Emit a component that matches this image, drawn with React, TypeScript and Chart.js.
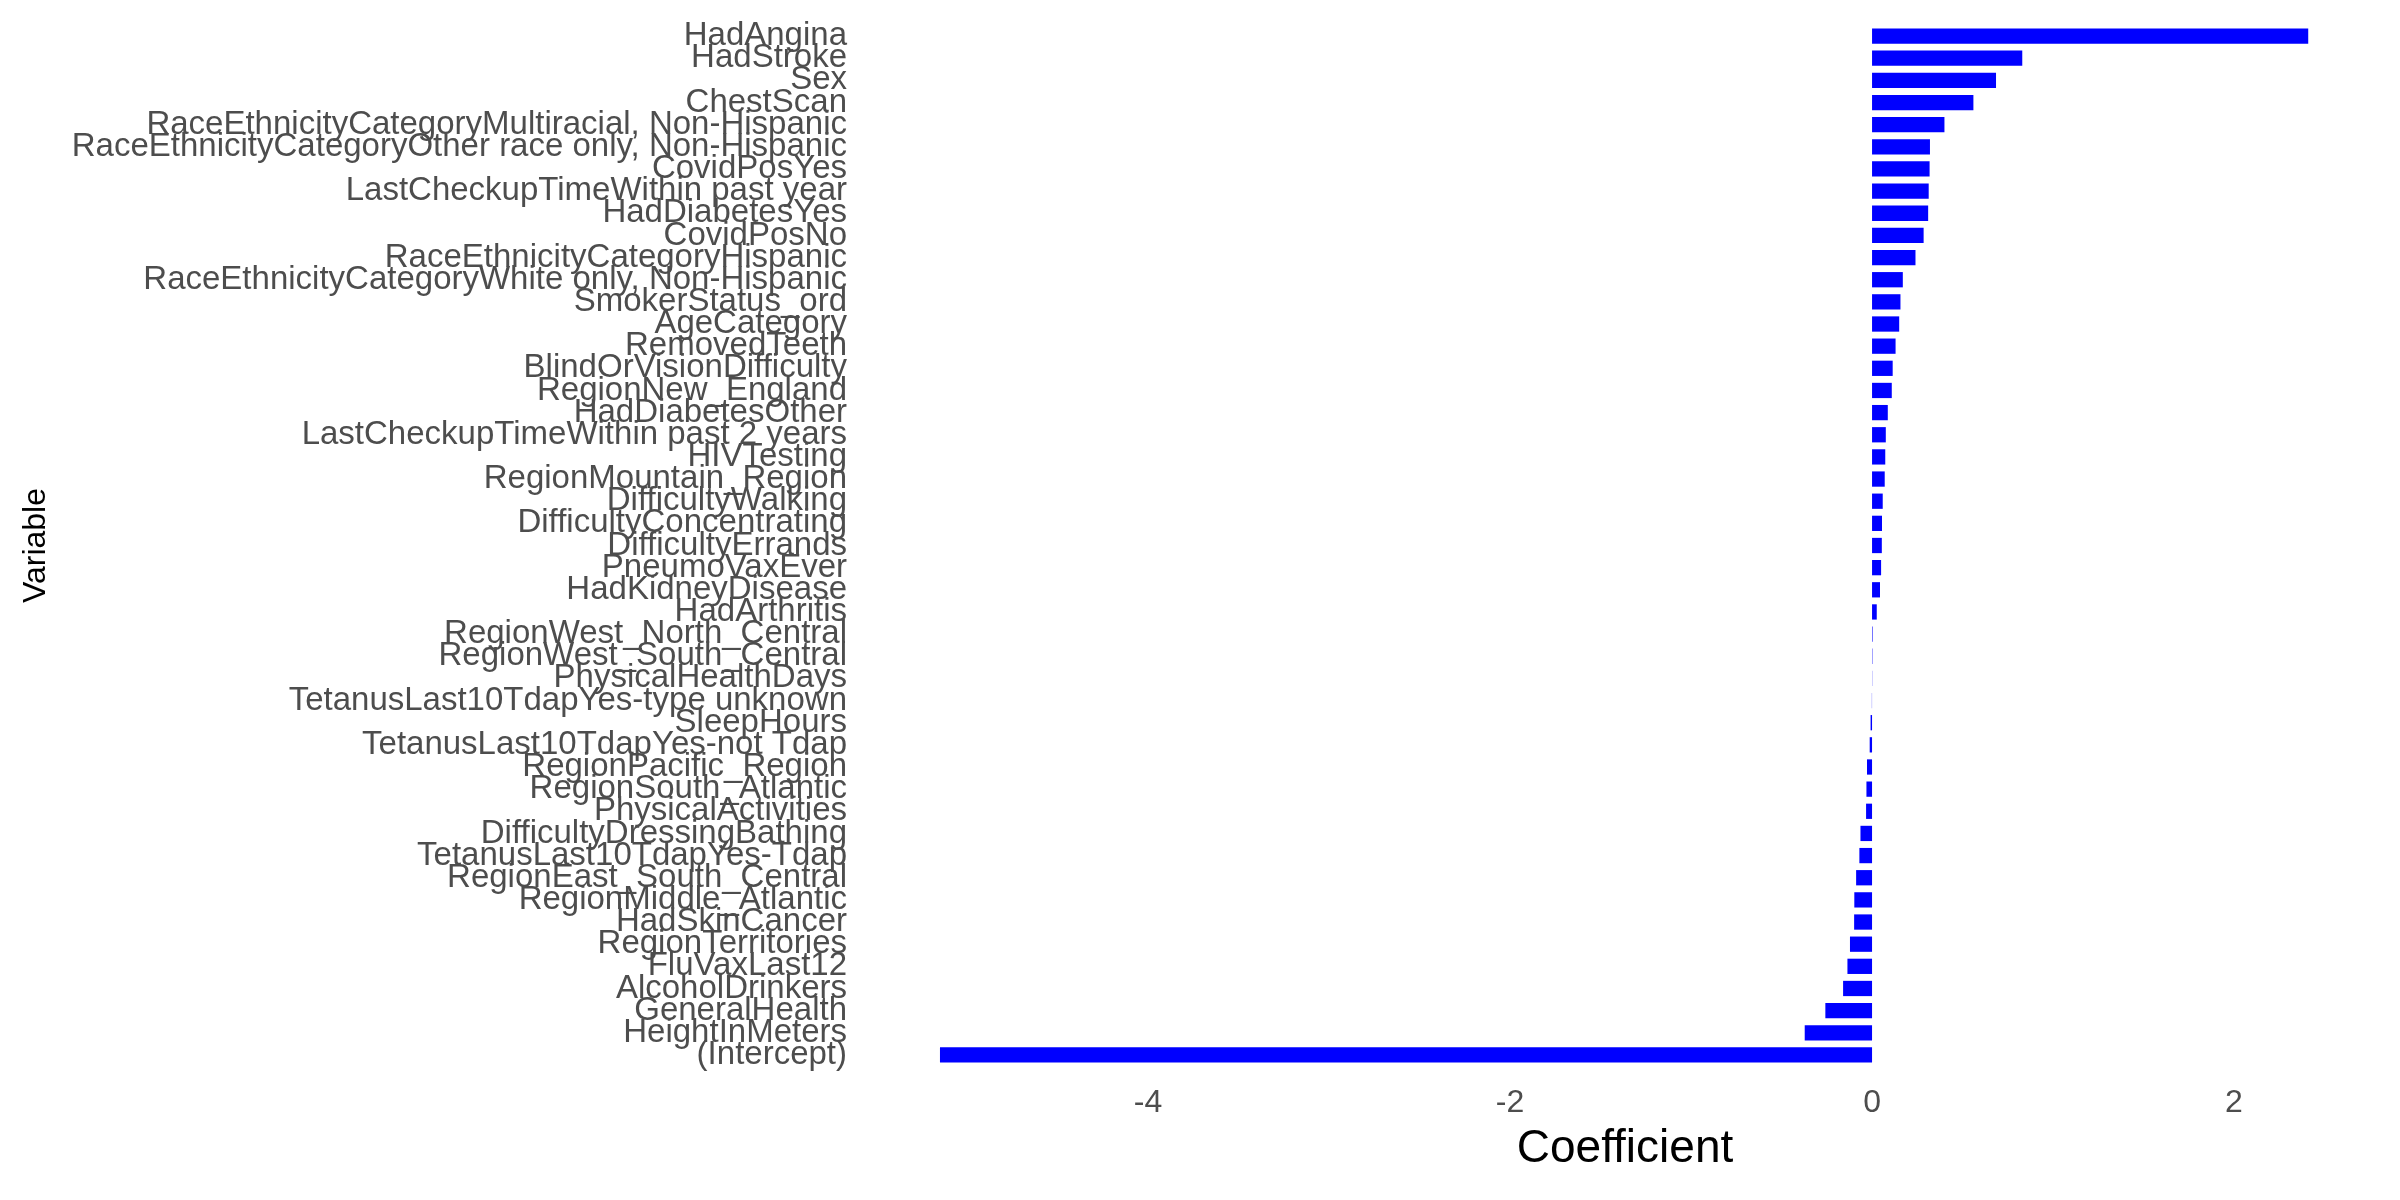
import React, { useEffect, useRef } from 'react';
import { Chart, registerables } from 'chart.js';

Chart.register(...registerables);

const variables = [
  'HadAngina',
  'HadStroke',
  'Sex',
  'ChestScan',
  'RaceEthnicityCategoryMultiracial, Non-Hispanic',
  'RaceEthnicityCategoryOther race only, Non-Hispanic',
  'CovidPosYes',
  'LastCheckupTimeWithin past year',
  'HadDiabetesYes',
  'CovidPosNo',
  'RaceEthnicityCategoryHispanic',
  'RaceEthnicityCategoryWhite only, Non-Hispanic',
  'SmokerStatus_ord',
  'AgeCategory',
  'RemovedTeeth',
  'BlindOrVisionDifficulty',
  'RegionNew_England',
  'HadDiabetesOther',
  'LastCheckupTimeWithin past 2 years',
  'HIVTesting',
  'RegionMountain_Region',
  'DifficultyWalking',
  'DifficultyConcentrating',
  'DifficultyErrands',
  'PneumoVaxEver',
  'HadKidneyDisease',
  'HadArthritis',
  'RegionWest_North_Central',
  'RegionWest_South_Central',
  'PhysicalHealthDays',
  'TetanusLast10TdapYes-type unknown',
  'SleepHours',
  'TetanusLast10TdapYes-not Tdap',
  'RegionPacific_Region',
  'RegionSouth_Atlantic',
  'PhysicalActivities',
  'DifficultyDressingBathing',
  'TetanusLast10TdapYes-Tdap',
  'RegionEast_South_Central',
  'RegionMiddle_Atlantic',
  'HadSkinCancer',
  'RegionTerritories',
  'FluVaxLast12',
  'AlcoholDrinkers',
  'GeneralHealth',
  'HeightInMeters',
  '(Intercept)',
];

const coefficients = [
  2.41, 0.83, 0.685, 0.56, 0.4, 0.32, 0.318, 0.313, 0.31, 0.285,
  0.24, 0.17, 0.157, 0.15, 0.13, 0.114, 0.109, 0.087, 0.076, 0.073,
  0.07, 0.059, 0.055, 0.054, 0.05, 0.044, 0.026, 0.003, 0.002, 0.001,
  -0.001, -0.008, -0.013, -0.028, -0.031, -0.033, -0.064, -0.07, -0.088, -0.098,
  -0.099, -0.122, -0.136, -0.16, -0.258, -0.372, -5.15,
];

const xTicks = [-4, -2, 0, 2];
const xMin = -5.52;
const xMax = 2.79;

const FONT = '"Liberation Sans", Arial, Helvetica, sans-serif';

const CoefficientChart = () => {
  const canvasRef = useRef<HTMLCanvasElement>(null);

  useEffect(() => {
    const chart = new Chart(canvasRef.current, {
      type: 'bar',
      data: {
        labels: variables,
        datasets: [
          {
            data: coefficients,
            backgroundColor: '#0000FF',
            borderWidth: 0,
            barPercentage: 0.69,
            categoryPercentage: 1,
          },
        ],
      },
      options: {
        animation: false,
        responsive: true,
        maintainAspectRatio: false,
        indexAxis: 'y',
        layout: { padding: { top: 25, right: 23, bottom: 0, left: 0 } },
        plugins: {
          legend: { display: false },
          tooltip: { enabled: false },
        },
        scales: {
          x: {
            type: 'linear',
            min: xMin,
            max: xMax,
            afterBuildTicks: (scale) => {
              scale.ticks = xTicks.map((v) => ({ value: v }));
            },
            afterFit: (scale) => {
              scale.height = 134;
              scale.paddingLeft = 0;
              scale.paddingRight = 0;
            },
            grid: { display: false, drawTicks: false },
            border: { display: false },
            ticks: {
              padding: 18,
              color: '#4D4D4D',
              font: { family: FONT, size: 32 },
            },
            title: {
              display: true,
              text: 'Coefficient',
              color: '#000000',
              font: { family: FONT, size: 46 },
              padding: { top: 0, bottom: 23 },
            },
          },
          y: {
            type: 'category',
            afterFit: (scale) => {
              scale.width = 873;
              scale.paddingTop = 0;
              scale.paddingBottom = 0;
            },
            grid: { display: false, drawTicks: false },
            border: { display: false },
            ticks: {
              autoSkip: false,
              padding: 26,
              color: '#4D4D4D',
              font: { family: FONT, size: 33 },
            },
            title: {
              display: true,
              text: 'Variable',
              color: '#000000',
              font: { family: FONT, size: 32 },
              padding: { top: 17, bottom: 0 },
            },
          },
        },
      },
    });

    return () => chart.destroy();
  }, []);

  return (
    <div style={{ position: 'fixed', left: 0, top: 0, width: 2400, height: 1200, background: '#fff' }}>
      <canvas ref={canvasRef} />
    </div>
  );
};

export default function App() {
  return <CoefficientChart />;
}
